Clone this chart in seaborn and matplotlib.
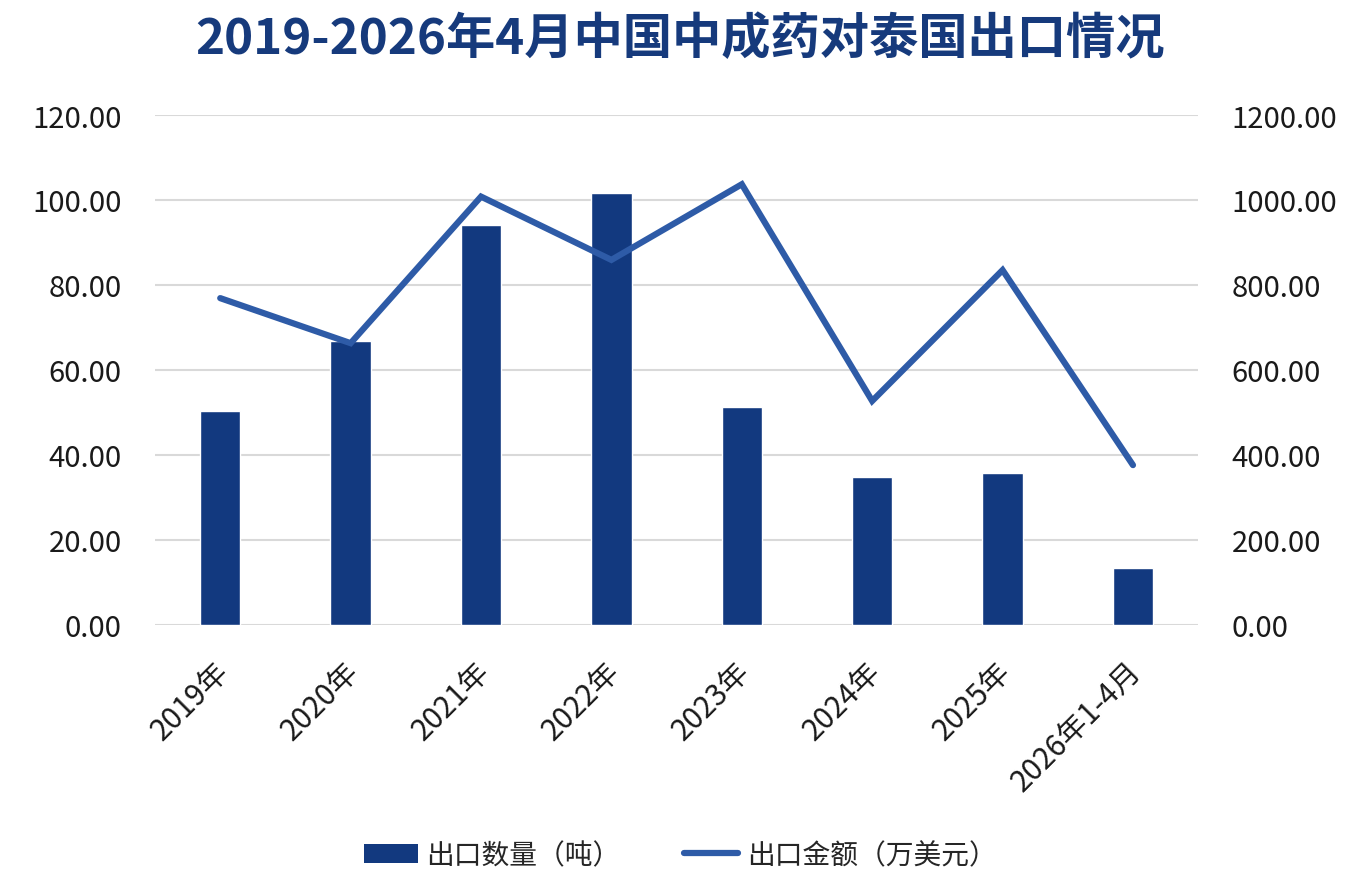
import numpy as np
import pandas as pd
import matplotlib
matplotlib.use("Agg")
import matplotlib.pyplot as plt
import matplotlib.transforms as mtransforms
import seaborn as sns
from matplotlib.patches import Patch
from matplotlib.lines import Line2D

# data
years = ["2019年", "2020年", "2021年", "2022年", "2023年", "2024年", "2025年", "2026年1-4月"]
qty_ton = [50.3, 66.8, 94.0, 101.7, 51.2, 34.7, 35.7, 13.3]
value_10k_usd = [769, 663, 1008, 859, 1037, 527, 835, 376]

sns.set_theme(style="white")
plt.rcParams["font.family"] = ["Noto Sans CJK SC", "DejaVu Sans"]
plt.rcParams["axes.unicode_minus"] = False

bar_color = "#12397f"
line_color = "#2e5ba7"
text_color = "#1a1a1a"

df = pd.DataFrame({"year": years, "qty": qty_ton, "value": value_10k_usd})

fig = plt.figure(figsize=(13.6, 8.79), dpi=100)
ax = fig.add_axes([0.114, 0.288, 0.767, 0.580])

sns.barplot(data=df, x="year", y="qty", color=bar_color, width=0.31,
            saturation=1, ax=ax, zorder=3)
ax.set_ylim(0, 120)
ax.set_yticks(np.arange(0, 121, 20))
ax.set_yticklabels([f"{v:.2f}" for v in np.arange(0, 121, 20)])
ax.yaxis.grid(True, color="#d9d9d9", linewidth=1.5, zorder=0)
ax.set_axisbelow(True)
ax.set_xlim(-0.5, len(years) - 0.5)
ax.set_xlabel("")
ax.set_ylabel("")

ax2 = ax.twinx()
sns.lineplot(x=np.arange(len(years)), y=df["value"], color=line_color,
             linewidth=4.5, ax=ax2, zorder=4, solid_capstyle="round",
             solid_joinstyle="miter")
ax2.set_ylim(0, 1200)
ax2.set_yticks(np.arange(0, 1201, 200))
ax2.set_yticklabels([f"{v:.2f}" for v in np.arange(0, 1201, 200)])
ax2.set_ylabel("")
ax2.set_xlim(-0.5, len(years) - 0.5)

for a in (ax, ax2):
    for s in a.spines.values():
        s.set_visible(False)
    a.tick_params(axis="both", length=0, labelsize=21, colors=text_color)
ax.tick_params(axis="y", pad=24)
ax2.tick_params(axis="y", pad=24)
ax.tick_params(axis="x", pad=14)
shift = mtransforms.ScaledTranslation(-7 / 100, -11 / 100, fig.dpi_scale_trans)
for lbl in ax.get_xticklabels():
    lbl.set_rotation(45)
    lbl.set_ha("right")
    lbl.set_rotation_mode("anchor")
    lbl.set_fontsize(21.5)
    lbl.set_transform(lbl.get_transform() + shift)

fig.suptitle("2019-2026年4月中国中成药对泰国出口情况", x=0.5, y=0.983,
             fontsize=35.5, fontweight="bold", color="#163a7c")

handles = [Patch(facecolor=bar_color, edgecolor="none", label="出口数量（吨）"),
           Line2D([0], [0], color=line_color, linewidth=4.5, solid_capstyle="round",
                  label="出口金额（万美元）")]
fig.legend(handles=handles, loc="center", bbox_to_anchor=(0.5, 0.026), ncol=2,
           frameon=False, fontsize=20, handlelength=1.95, handleheight=0.7,
           columnspacing=2.3, handletextpad=0.3)

fig.savefig("out.png", dpi=100)
